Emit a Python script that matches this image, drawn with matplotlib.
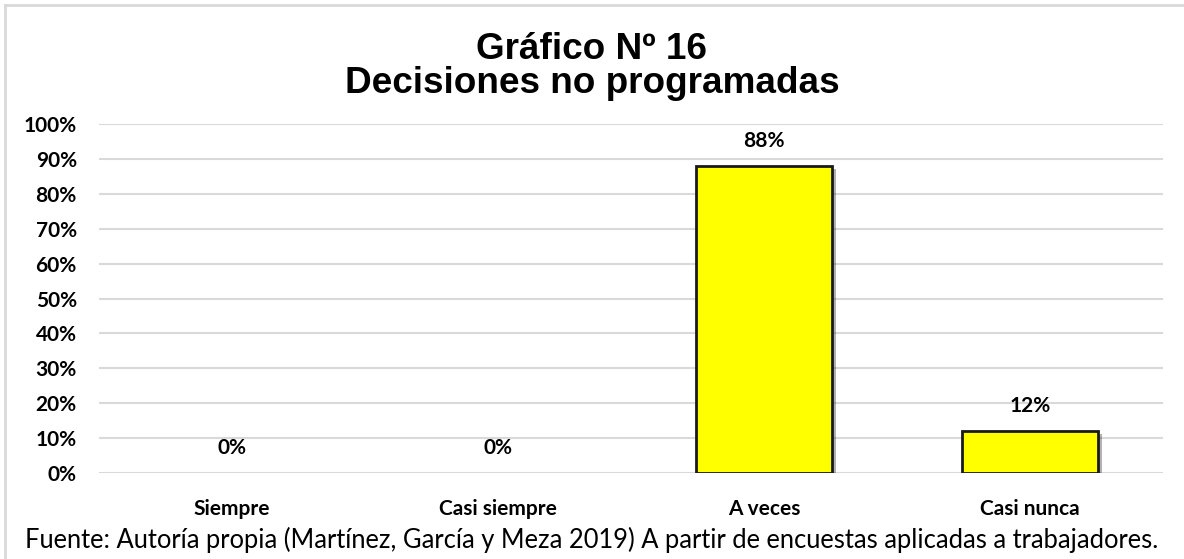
import matplotlib.pyplot as plt
import matplotlib.patheffects as pe
from matplotlib.lines import Line2D

categories = ["Siempre", "Casi siempre", "A veces", "Casi nunca"]
values = [0, 0, 88, 12]
y_ticks = [0, 10, 20, 30, 40, 50, 60, 70, 80, 90, 100]

fig = plt.figure(figsize=(11.84, 5.59), dpi=100)
ax = fig.add_axes([0.0836, 0.1538, 0.8987, 0.6244])

x = range(len(categories))
bars = ax.bar(x, values, width=0.51, color="#ffff00", edgecolor="#1a1a1a",
              linewidth=2, zorder=3)
for b in bars:
    if b.get_height() > 0:
        b.set_path_effects([pe.SimplePatchShadow(offset=(3, -2), shadow_rgbFace="#000000",
                                                 alpha=0.3), pe.Normal()])
    else:
        b.set_visible(False)

for xi, v in zip(x, values):
    ax.annotate(f"{v}%", (xi, v), xytext=(0, 18), textcoords="offset points",
                ha="center", va="center", fontsize=15, fontweight="bold",
                family="Lato", color="#000000")

ax.set_xlim(-0.5, len(categories) - 0.5)
ax.set_ylim(0, 100)
ax.set_yticks(y_ticks)
ax.set_yticklabels([f"{t}%" for t in y_ticks], fontsize=15, fontweight="bold",
                   family="Lato")
ax.set_xticks(list(x))
ax.set_xticklabels(categories, fontsize=15, fontweight="bold", family="Lato")
ax.tick_params(axis="both", length=0)
ax.tick_params(axis="y", pad=16)
ax.tick_params(axis="x", pad=19)
ax.grid(axis="y", color="#d9d9d9", linewidth=1.5, zorder=0)
for s in ax.spines.values():
    s.set_visible(False)

fig.text(0.5, 0.881, "Gráfico Nº 16\nDecisiones no programadas", ha="center",
         va="center", fontsize=26.6, fontweight="bold", family="Liberation Sans",
         linespacing=0.98)
fig.text(0.5, 0.034, "Fuente: Autoría propia (Martínez, García y Meza 2019) A partir de "
         "encuestas aplicadas a trabajadores.", ha="center", va="center",
         fontsize=18.4, family="Lato")

# outer frame (top and left edges)
fig.add_artist(Line2D([5 / 1184, 5 / 1184], [0, 1 - 5 / 559], color="#d9d9d9",
                      linewidth=2, transform=fig.transFigure))
fig.add_artist(Line2D([5 / 1184, 1], [1 - 5 / 559, 1 - 5 / 559], color="#d9d9d9",
                      linewidth=2, transform=fig.transFigure))

fig.savefig("out.png", dpi=100)
